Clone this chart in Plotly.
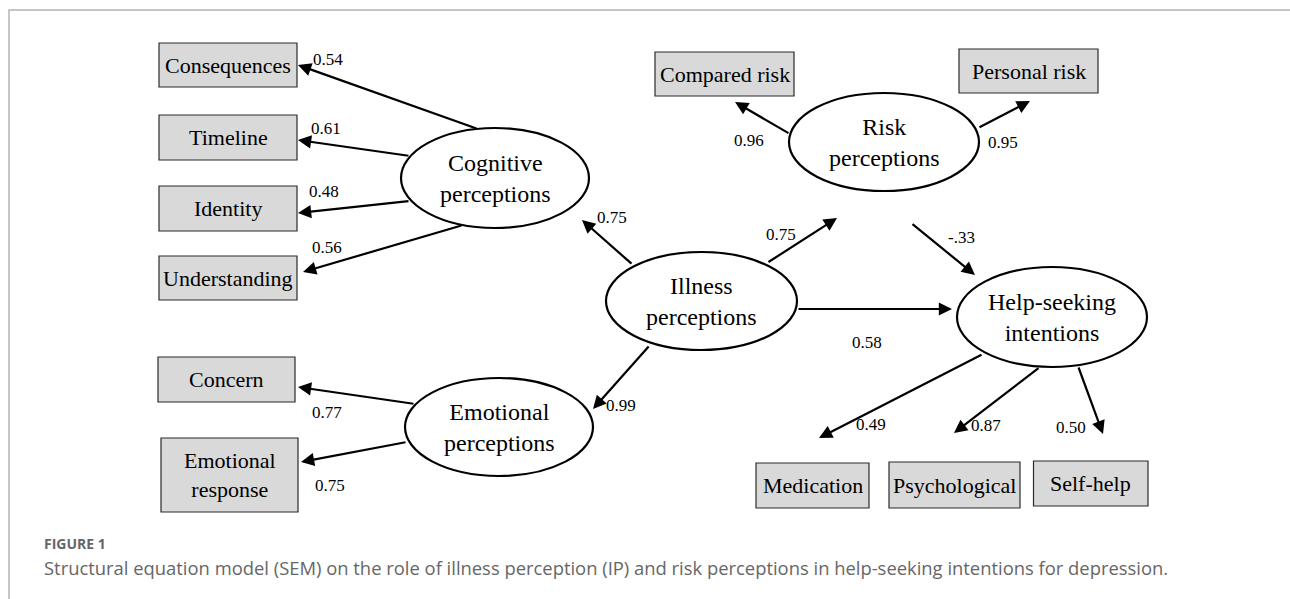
import plotly.graph_objects as go

# ---------------- data ----------------
latent_names = ["Cognitive<br>perceptions", "Risk<br>perceptions", "Illness<br>perceptions",
                "Emotional<br>perceptions", "Help-seeking<br>intentions"]
latent_keys = ["cog", "risk", "ill", "emo", "help"]

indicator_names = ["Consequences", "Timeline", "Identity", "Understanding", "Concern",
                   "Emotional<br>response", "Compared risk", "Personal risk",
                   "Medication", "Psychological", "Self-help"]
indicator_keys = ["cons", "time", "iden", "und", "conc", "emor", "comp", "pers",
                  "med", "psy", "self"]

path_from = ["cog", "cog", "cog", "cog", "ill", "risk", "risk", "ill", "risk",
             "emo", "emo", "ill", "ill", "help", "help", "help"]
path_to = ["cons", "time", "iden", "und", "cog", "comp", "pers", "risk", "help",
           "conc", "emor", "emo", "help", "med", "psy", "self"]
path_coef = ["0.54", "0.61", "0.48", "0.56", "0.75", "0.96", "0.95", "0.75", "-.33",
             "0.77", "0.75", "0.99", "0.58", "0.49", "0.87", "0.50"]

caption_label = "FIGURE 1"
caption_text = ("Structural equation model (SEM) on the role of illness perception (IP) and risk "
                "perceptions in help-seeking intentions for depression.")

# ---------------- layout geometry (pixels, y downward) ----------------
ellipse_geo = {  # cx, cy, rx, ry
    "cog": (495, 178, 94, 50),
    "risk": (884, 142, 95, 49),
    "ill": (701.5, 301, 95.5, 49),
    "emo": (499, 427, 94, 49),
    "help": (1052, 317, 95, 50),
}
box_geo = {  # x0, y0, x1, y1
    "cons": (159, 43, 297, 87),
    "time": (159, 115, 297, 160),
    "iden": (159, 186, 297, 231),
    "und": (159, 256, 297, 300),
    "conc": (158, 357, 295, 402),
    "emor": (161, 438, 298, 512),
    "comp": (655, 52, 794, 96),
    "pers": (959, 49, 1098, 93),
    "med": (756, 463, 869, 508),
    "psy": (889, 462, 1020, 508),
    "self": (1033.5, 461, 1148, 506),
}
edge_geo = {  # (start x, start y, tip x, tip y, label x, label y)
    ("cog", "cons"): (478, 129, 298, 65, 328, 59),
    ("cog", "time"): (410, 156, 298, 140, 326, 128),
    ("cog", "iden"): (410, 201, 298, 213, 324, 191),
    ("cog", "und"): (463, 225, 303, 272, 327, 247),
    ("ill", "cog"): (633, 265, 582, 220, 612, 217),
    ("risk", "comp"): (790, 134, 735, 102, 749, 140),
    ("risk", "pers"): (978, 128, 1030, 101, 1003, 142),
    ("ill", "risk"): (767, 263, 837, 218, 781, 234),
    ("risk", "help"): (911, 223, 975, 275, 961, 237),
    ("emo", "conc"): (415, 404, 298, 387, 327, 412),
    ("emo", "emor"): (407, 442, 301, 462, 330, 485),
    ("ill", "emo"): (650, 345, 593, 409, 621, 405),
    ("ill", "help"): (797, 309, 952, 309, 867, 342),
    ("help", "med"): (983, 354, 819, 438, 871, 424),
    ("help", "psy"): (1040, 367, 954, 433, 986, 425),
    ("help", "self"): (1078, 366, 1103, 434, 1071, 427),
}

W, H = 1290, 599
SERIF = "Liberation Serif, Times New Roman, serif"
SANS = "Open Sans, sans-serif"

fig = go.Figure()
shapes = []
annotations = []

# outer frame
shapes.append(dict(type="rect", x0=9, y0=10, x1=W + 20, y1=H + 20,
                   line=dict(color="#b4b4b4", width=1.5), fillcolor="rgba(0,0,0,0)",
                   layer="below"))

# indicator boxes
for key, name in zip(indicator_keys, indicator_names):
    x0, y0, x1, y1 = box_geo[key]
    shapes.append(dict(type="rect", x0=x0, y0=y0, x1=x1, y1=y1,
                       line=dict(color="#2a2a2a", width=1.2), fillcolor="#d9d9d9"))
    annotations.append(dict(x=(x0 + x1) / 2, y=(y0 + y1) / 2, text=name, showarrow=False,
                            font=dict(family=SERIF, size=22, color="#000"),
                            xanchor="center", yanchor="middle"))

# latent ellipses
for key, name in zip(latent_keys, latent_names):
    cx, cy, rx, ry = ellipse_geo[key]
    shapes.append(dict(type="circle", x0=cx - rx, y0=cy - ry, x1=cx + rx, y1=cy + ry,
                       line=dict(color="#000", width=2.2), fillcolor="#ffffff"))
    annotations.append(dict(x=cx, y=cy, text=name, showarrow=False,
                            font=dict(family=SERIF, size=24, color="#000"),
                            xanchor="center", yanchor="middle"))

# paths
for f, t, c in zip(path_from, path_to, path_coef):
    sx, sy, tx, ty, lx, ly = edge_geo[(f, t)]
    annotations.append(dict(x=tx, y=ty, ax=sx, ay=sy, xref="x", yref="y",
                            axref="x", ayref="y", text="", showarrow=True,
                            arrowhead=2, arrowsize=1.2, arrowwidth=2.2,
                            arrowcolor="#000", standoff=0, startstandoff=0))
    annotations.append(dict(x=lx, y=ly, text=c, showarrow=False,
                            font=dict(family=SERIF, size=17, color="#000"),
                            xanchor="center", yanchor="middle"))

# caption
annotations.append(dict(x=42, y=543, text="<b>" + caption_label + "</b>", showarrow=False,
                        xanchor="left", yanchor="middle",
                        font=dict(family=SANS, size=14, color="#666666")))
annotations.append(dict(x=42, y=567, text=caption_text, showarrow=False,
                        xanchor="left", yanchor="middle",
                        font=dict(family=SANS, size=18.4, color="#666666")))

fig.update_layout(
    width=W, height=H,
    margin=dict(l=0, r=0, t=0, b=0),
    paper_bgcolor="#ffffff", plot_bgcolor="#ffffff",
    xaxis=dict(range=[0, W], visible=False, fixedrange=True),
    yaxis=dict(range=[H, 0], visible=False, fixedrange=True),
    shapes=shapes, annotations=annotations, showlegend=False,
)

fig.write_html("out.html",
               config={"displayModeBar": False, "staticPlot": True},
               post_script="document.body.style.margin='0px';"
                           "document.body.style.overflow='hidden';")
